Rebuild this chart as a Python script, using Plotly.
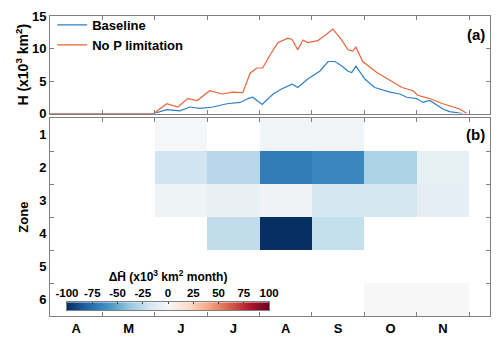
import plotly.graph_objects as go

# months from 1 April (0) along the x axis; tick labels sit mid-month
month_labels = ["A", "M", "J", "J", "A", "S", "O", "N"]
month_centers = [0.5, 1.5, 2.5, 3.5, 4.5, 5.5, 6.5, 7.5]
month_edges = [1, 2, 3, 4, 5, 6, 7, 8]

# panel (a): H time series (x10^3 km^2)
base_x = [0.0, 1.0, 1.98, 2.23, 2.48, 2.67, 2.86, 3.11, 3.38, 3.63, 3.78, 3.87,
          4.05, 4.26, 4.43, 4.62, 4.73, 4.92, 5.15, 5.31, 5.44, 5.57, 5.69,
          5.76, 5.84, 6.01, 6.2, 6.49, 6.68, 6.81, 7.0, 7.12, 7.25, 7.5,
          7.63, 7.88]
base_h = [0.0, 0.0, 0.0, 0.6, 0.4, 1.0, 0.8, 1.0, 1.5, 1.7, 2.3, 2.5,
          1.4, 3.0, 3.8, 4.5, 4.0, 5.3, 6.5, 8.0, 8.0, 7.3, 6.5,
          6.3, 7.3, 5.3, 4.0, 3.3, 3.0, 2.5, 2.3, 1.7, 2.0, 0.7,
          0.3, 0.0]

nolim_x = [0.0, 1.0, 1.98, 2.23, 2.44, 2.63, 2.81, 3.05, 3.28, 3.49, 3.68, 3.82,
           3.95, 4.06, 4.2, 4.35, 4.54, 4.62, 4.73, 4.83, 4.92, 5.11, 5.25,
           5.4, 5.57, 5.69, 5.78, 5.84, 5.97, 6.24, 6.55, 6.72, 6.93, 7.02,
           7.25, 7.5, 7.82, 7.96]
nolim_h = [0.0, 0.0, 0.0, 1.5, 1.0, 2.3, 2.0, 3.5, 3.0, 3.3, 3.2, 6.2,
           7.0, 7.0, 9.0, 10.9, 11.6, 11.4, 9.8, 11.3, 10.9, 11.2, 12.0,
           13.0, 11.3, 9.8, 9.6, 10.2, 8.0, 6.3, 4.8, 4.0, 3.5, 2.8,
           2.3, 1.5, 0.7, 0.0]

# panel (b): change in mean H per zone and month (x10^3 km^2 month)
zones = [1, 2, 3, 4, 5, 6]
delta_h = [
    [None, None, -1, None, -3, -3, None, None],
    [None, None, -20, -28, -70, -66, -32, -9],
    [None, None, -5, -8, -4, -18, -18, -10],
    [None, None, None, -25, -100, -24, None, None],
    [None, None, None, None, None, None, None, None],
    [None, None, None, None, None, None, 0, 0],
]
cbar_ticks = [-100, -75, -50, -25, 0, 25, 50, 75, 100]
cbar_labels = ["-100", "-75", "-50", "-25", "0", "25", "50", "75", "100"]

AXIS = "#7f7f7f"
CSCALE = "RdBu_r"

fig = go.Figure()

fig.add_trace(go.Scatter(
    x=base_x, y=base_h, mode="lines", name="Baseline",
    line=dict(color="#2f7fc8", width=1.2), legendgroup="a",
    xaxis="x", yaxis="y"
))
fig.add_trace(go.Scatter(
    x=nolim_x, y=nolim_h, mode="lines", name="No P limitation",
    line=dict(color="#e8653a", width=1.2), legendgroup="b",
    xaxis="x", yaxis="y"
))

fig.add_trace(go.Heatmap(
    x=month_centers, y=zones, z=delta_h,
    zmin=-100, zmax=100, colorscale=CSCALE,
    showscale=False, hoverongaps=False,
    xaxis="x2", yaxis="y2",
))

# inset colour bar drawn as a smoothed strip so its labels can sit on top
fig.add_trace(go.Heatmap(
    x=cbar_ticks, y=[0, 1], z=[cbar_ticks, cbar_ticks],
    zmin=-100, zmax=100, colorscale=CSCALE, zsmooth="best",
    showscale=False, hoverinfo="skip",
    xaxis="x3", yaxis="y3",
))

common_axis = dict(
    showline=True, linecolor=AXIS, linewidth=1, mirror="allticks",
    showgrid=False, zeroline=False, tickcolor=AXIS, automargin=False,
)

fig.update_layout(
    width=500, height=340,
    margin=dict(l=50, r=10, t=11, b=24),
    paper_bgcolor="white", plot_bgcolor="white",
    font=dict(family="Liberation Sans, Arial, sans-serif", size=13,
              color="black", weight="bold"),
    showlegend=True,
    legend=dict(x=0.005, y=1.02, xanchor="left", yanchor="top",
                bgcolor="rgba(0,0,0,0)", itemwidth=30,
                traceorder="grouped", tracegroupgap=0,
                font=dict(size=13)),
    xaxis=dict(domain=[0, 1], range=[0, 8.4], anchor="y",
               tickvals=month_edges, ticks="inside", ticklen=4,
               showticklabels=False, **common_axis),
    yaxis=dict(domain=[0.675, 1], range=[0, 15], anchor="x",
               tickvals=[0, 5, 10, 15], ticks="inside", ticklen=4,
               title=dict(text="H (x10<sup>3</sup> km<sup>2</sup>)",
                          font=dict(size=14), standoff=0),
               **common_axis),
    xaxis2=dict(domain=[0, 1], range=[0, 8.4], anchor="y2",
                tickvals=month_centers, ticktext=month_labels,
                ticks="", ticklen=0,
                minor=dict(tickvals=month_edges, ticks="inside",
                           ticklen=4, tickcolor=AXIS),
                **common_axis),
    yaxis2=dict(domain=[0, 0.659], range=[6.5, 0.5], anchor="x2",
                tickvals=zones, ticks="", ticklen=0,
                minor=dict(tickvals=[1.5, 2.5, 3.5, 4.5, 5.5], ticks="inside",
                           ticklen=4, tickcolor=AXIS),
                title=dict(text="Zone", font=dict(size=13), standoff=7),
                **common_axis),
    xaxis3=dict(domain=[0.0386, 0.498], range=[-100, 100], anchor="y3",
                side="top", tickvals=cbar_ticks, ticktext=cbar_labels,
                tickangle=0, ticks="inside", ticklen=2, tickcolor="#444",
                showline=True, linecolor=AXIS, mirror=True,
                showgrid=False, zeroline=False, automargin=False,
                tickfont=dict(size=11.5),
                title=dict(text="\u0394H\u0304 (x10<sup>3</sup> km<sup>2</sup> month)",
                           font=dict(size=12), standoff=2)),
    yaxis3=dict(domain=[0.0197, 0.0459], range=[0, 1], anchor="x3",
                showticklabels=False, ticks="", showline=True,
                linecolor=AXIS, mirror=True, showgrid=False,
                zeroline=False, automargin=False),
    annotations=[
        dict(text="(a)", xref="x domain", yref="y domain", x=0.993, y=0.81,
             xanchor="right", yanchor="middle", showarrow=False,
             font=dict(size=15)),
        dict(text="(b)", xref="x2 domain", yref="y2 domain", x=0.993, y=0.92,
             xanchor="right", yanchor="middle", showarrow=False,
             font=dict(size=15)),
    ],
)

fig.write_html("out.html", config={"displayModeBar": False},
               post_script="document.body.style.margin='0';")
